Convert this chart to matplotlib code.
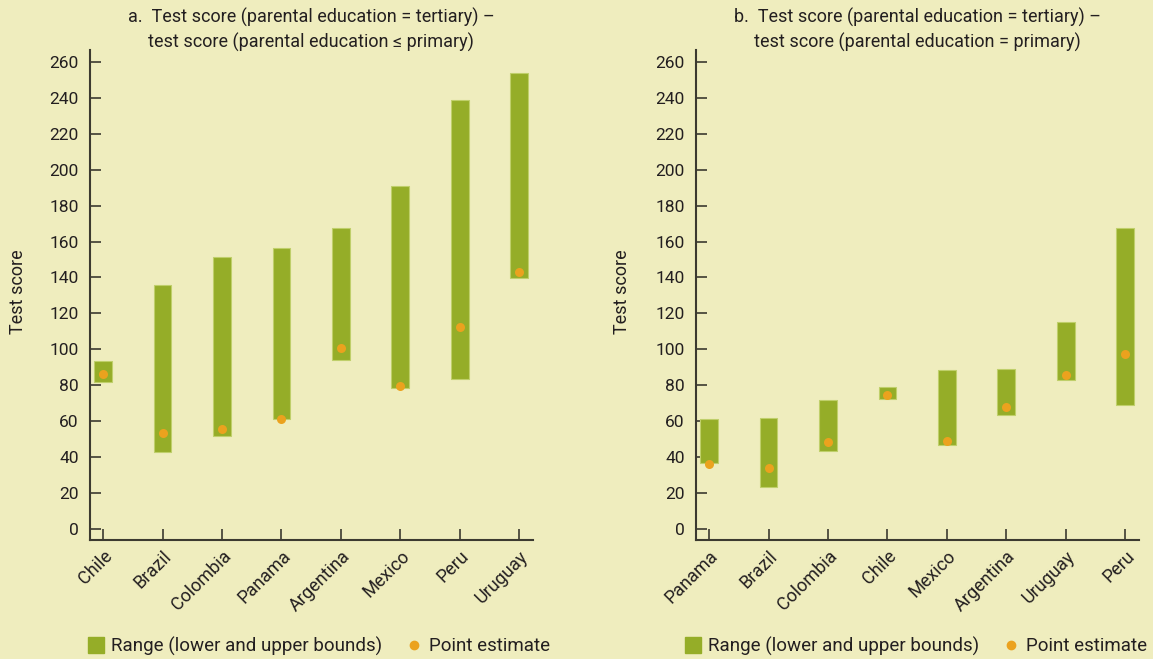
import matplotlib
matplotlib.use("Agg")
import matplotlib.pyplot as plt
from matplotlib.lines import Line2D
import numpy as np

plt.rcParams['font.family'] = ['Roboto', 'DejaVu Sans']

# Panel a data
cats_a = ["Chile", "Brazil", "Colombia", "Panama", "Argentina", "Mexico", "Peru", "Uruguay"]
low_a = [81.7, 42.7, 51.8, 61.2, 94.3, 78.5, 83.7, 139.7]
high_a = [93.5, 136.0, 151.6, 156.4, 167.8, 191.1, 238.7, 253.7]
point_a = [86.5, 53.6, 55.7, 61.4, 100.6, 79.4, 112.5, 143.1]

# Panel b data
cats_b = ["Panama", "Brazil", "Colombia", "Chile", "Mexico", "Argentina", "Uruguay", "Peru"]
low_b = [36.7, 23.2, 43.2, 72.4, 46.8, 63.3, 82.8, 69.0]
high_b = [61.4, 61.8, 72.0, 78.9, 88.5, 88.9, 115.2, 167.8]
point_b = [36.4, 33.8, 48.4, 74.4, 49.2, 67.7, 85.6, 97.2]

yticks = list(range(0, 261, 20))
titles = ["a.  Test score (parental education = tertiary) \u2013\ntest score (parental education \u2264 primary)",
          "b.  Test score (parental education = tertiary) \u2013\ntest score (parental education = primary)"]

BG = "#EFEDBE"
GREEN = "#95AD28"
EDGE = "#BFCF6A"
ORANGE = "#EBA21E"
TXT = "#231F20"
SPINE = "#3C3A30"

W, H = 1153, 659
fig = plt.figure(figsize=(W / 100, H / 100), dpi=100, facecolor=BG)

panels = [
    (cats_a, low_a, high_a, point_a, 89.7, 18, 318),
    (cats_b, low_b, high_b, point_b, 695.7, 622, 915),
]

for i, (cats, low, high, pt, left_px, ylab_x, leg_x) in enumerate(panels):
    ax = fig.add_axes([left_px / W, 1 - 540 / H, 443 / W, 490 / H])
    ax.set_facecolor(BG)
    x = np.arange(len(cats))
    heights = np.array(high) - np.array(low)
    ax.bar(x, heights, bottom=low, width=0.3, color=GREEN, edgecolor=EDGE, linewidth=0.8, zorder=2)
    ax.plot(x, pt, 'o', color=ORANGE, markersize=6.5, zorder=3, markeredgewidth=0)
    ax.set_xlim(-0.225, 7.225)
    ax.set_ylim(-6.1, 266.6)
    ax.set_yticks(yticks)
    ax.set_xticks(x)
    ax.set_xticklabels(cats, rotation=45, ha='right', va='top', rotation_mode='anchor')
    ax.tick_params(axis='both', direction='in', length=8, width=1.2, color=SPINE,
                   labelsize=12.5, labelcolor=TXT)
    ax.tick_params(axis='x', labelsize=13, pad=5)
    ax.tick_params(axis='y', pad=8)
    for s in ['top', 'right']:
        ax.spines[s].set_visible(False)
    for s in ['left', 'bottom']:
        ax.spines[s].set_color(SPINE)
        ax.spines[s].set_linewidth(1.5)
    title_x = left_px + 443 / 2
    fig.text(title_x / W, 1 - 30 / H, titles[i], ha='center', va='center',
             fontsize=13, color=TXT, linespacing=1.35)
    fig.text(ylab_x / W, 1 - 292 / H, "Test score", rotation=90, ha='center', va='center',
             fontsize=13, color=TXT)
    handles = [
        Line2D([0], [0], marker='s', linestyle='none', markersize=11, color=GREEN,
               label="Range (lower and upper bounds)"),
        Line2D([0], [0], marker='o', linestyle='none', markersize=6, color=ORANGE,
               label="Point estimate"),
    ]
    fig.legend(handles=handles, loc='center', bbox_to_anchor=(leg_x / W, 1 - 646 / H),
               ncol=2, frameon=False, fontsize=13.5, handletextpad=0.3, columnspacing=1.2,
               handlelength=1.0, labelcolor=TXT)

fig.savefig("out.png", dpi=100, facecolor=BG)
